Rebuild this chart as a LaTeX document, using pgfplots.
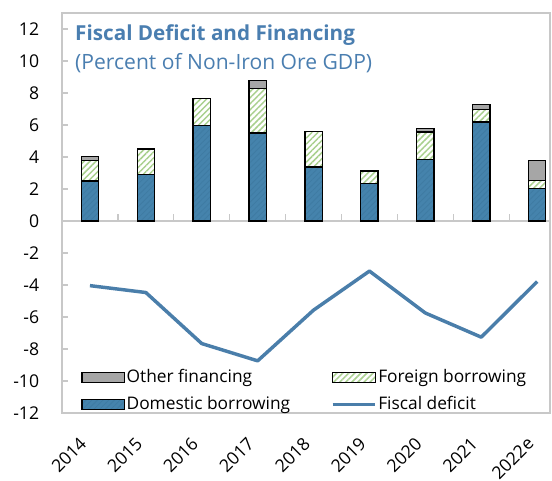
\documentclass[border=0pt]{standalone}
\usepackage{fontspec}
\setmainfont{Open Sans}
\usepackage{pgfplots}
\pgfplotsset{compat=1.18}
\usetikzlibrary{patterns.meta}

\definecolor{domblue}{RGB}{69,131,172}
\definecolor{domhatch}{RGB}{63,123,163}
\definecolor{forgreen}{RGB}{169,208,142}
\definecolor{othgray}{RGB}{166,166,166}
\definecolor{linblue}{RGB}{74,126,170}
\definecolor{titblue}{RGB}{74,126,176}
\definecolor{axgray}{RGB}{200,200,200}

\tikzset{
  dombar/.style={draw=black, line width=1pt, fill=domblue,
    postaction={pattern={Lines[angle=45,distance=3pt,line width=0.6pt]}, pattern color=domhatch}},
  forbar/.style={draw=black, line width=1pt, fill=white,
    postaction={pattern={Lines[angle=45,distance=3.2pt,line width=1.1pt]}, pattern color=forgreen}},
  othbar/.style={draw=black, line width=1pt, fill=othgray},
}
\pgfplotsset{
  patchleg/.style={legend image code/.code={\draw[##1] (0pt,-3.75pt) rectangle (32pt,3.75pt);}},
  lineleg/.style={legend image code/.code={\draw[##1] (0pt,0pt) -- (32pt,0pt);}},
}

\begin{document}
\begin{tikzpicture}
\begin{axis}[
    name=main,
    scale only axis,
    width=366pt, height=300pt,
    xmin=-0.5, xmax=8.23,
    ymin=-12, ymax=13,
    ybar stacked,
    bar width=13pt,
    xtick={0,...,8},
    xticklabels={2014,2015,2016,2017,2018,2019,2020,2021,2022e},
    xtick style={draw=none},
    ytick={-12,-10,...,12},
    ytick pos=left,
    ytick style={axgray, line width=1pt},
    major tick length=4.5pt,
    axis line style={axgray, line width=1pt},
    tick label style={font=\fontsize{13.2}{15}\selectfont},
    /pgf/number format/assume math mode=true,
    yticklabel style={anchor=east, inner sep=0pt, xshift=-17pt},
    xticklabel style={xshift=-5pt, yshift=-20.5pt, rotate=45, anchor=east, inner sep=0pt},
    legend columns=2,
    legend cell align=left,
    legend style={at={(0.039,-0.004)}, anchor=south west, draw=none, fill=none,
        inner sep=0pt, font=\fontsize{13}{15}\selectfont,
        nodes={inner sep=1pt, text height=10pt, text depth=3pt},
        /tikz/row sep=5pt,
        /tikz/every even column/.append style={column sep=29.5pt}},
]
% legend in the reference order
\addlegendimage{othbar, patchleg}
\addlegendentry{Other financing}
\addlegendimage{forbar, patchleg}
\addlegendentry{Foreign borrowing}
\addlegendimage{dombar, patchleg}
\addlegendentry{Domestic borrowing}
\addlegendimage{linblue, line width=2.6pt, lineleg}
\addlegendentry{Fiscal deficit}

% domestic borrowing
\addplot[dombar] coordinates {(0,2.50) (1,2.92) (2,5.98) (3,5.50) (4,3.38) (5,2.35) (6,3.83) (7,6.19) (8,2.02)};
% foreign borrowing
\addplot[forbar] coordinates {(0,1.27) (1,1.58) (2,1.69) (3,2.79) (4,2.20) (5,0.78) (6,1.73) (7,0.79) (8,0.52)};
% other financing
\addplot[othbar] coordinates {(0,0.27) (1,0) (2,0) (3,0.48) (4,0) (5,0) (6,0.21) (7,0.29) (8,1.25)};

\draw[axgray, line width=1pt] (axis cs:-0.5,0) -- (axis cs:8.23,0);
\draw[axgray, line width=1pt] (axis cs:0.5,0) -- ([yshift=5.5pt]axis cs:0.5,0);
\draw[axgray, line width=1pt] (axis cs:1.5,0) -- ([yshift=5.5pt]axis cs:1.5,0);
\draw[axgray, line width=1pt] (axis cs:2.5,0) -- ([yshift=5.5pt]axis cs:2.5,0);
\draw[axgray, line width=1pt] (axis cs:3.5,0) -- ([yshift=5.5pt]axis cs:3.5,0);
\draw[axgray, line width=1pt] (axis cs:4.5,0) -- ([yshift=5.5pt]axis cs:4.5,0);
\draw[axgray, line width=1pt] (axis cs:5.5,0) -- ([yshift=5.5pt]axis cs:5.5,0);
\draw[axgray, line width=1pt] (axis cs:6.5,0) -- ([yshift=5.5pt]axis cs:6.5,0);
\draw[axgray, line width=1pt] (axis cs:7.5,0) -- ([yshift=5.5pt]axis cs:7.5,0);

\node[anchor=base west, inner sep=0pt, text=titblue,
      font=\bfseries\fontsize{15.5}{18}\selectfont]
  at (rel axis cs:0.0266,0.9325) {Fiscal Deficit and Financing};
\node[anchor=base west, inner sep=0pt, text=titblue,
      font=\fontsize{15.8}{18}\selectfont]
  at (rel axis cs:0.0266,0.8575) {(Percent of Non-Iron Ore GDP)};
\end{axis}

% fiscal deficit line on its own axis, so it is not stacked
\begin{axis}[
    at={(main.south west)}, anchor=south west,
    scale only axis,
    width=366pt, height=300pt,
    xmin=-0.5, xmax=8.23,
    ymin=-12, ymax=13,
    axis lines=none,
]
\addplot[linblue, line width=2.6pt, line join=round] coordinates {(0,-4.04) (1,-4.47) (2,-7.66) (3,-8.74) (4,-5.57) (5,-3.13) (6,-5.75) (7,-7.26) (8,-3.79)};
\end{axis}

\path (main.south west) ++(-46.5pt,-49.5pt) rectangle ++(414pt,359.25pt);
\end{tikzpicture}
\end{document}
